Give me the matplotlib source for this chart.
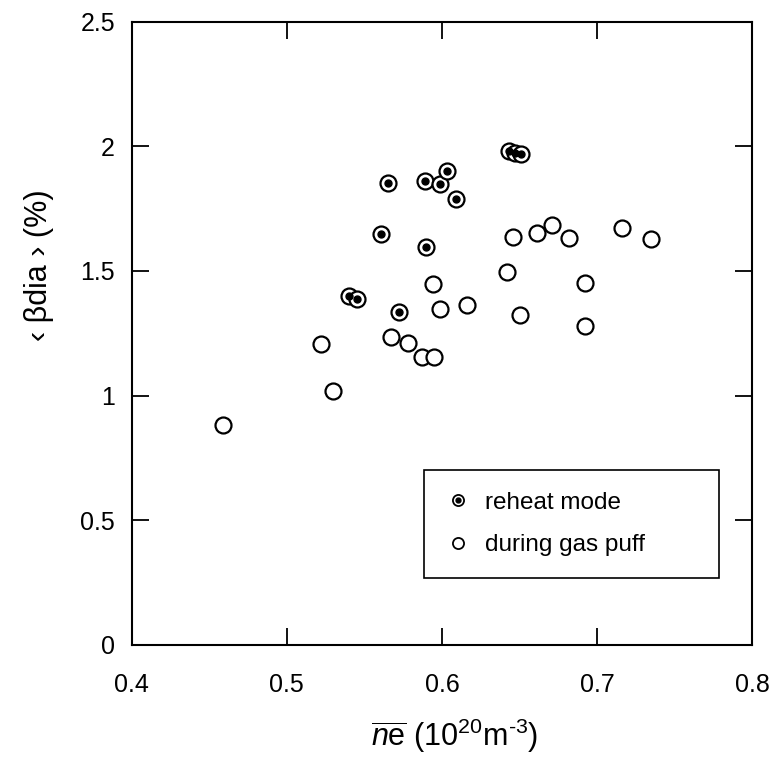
import matplotlib
matplotlib.use("Agg")
import matplotlib.pyplot as plt
from matplotlib.legend_handler import HandlerTuple

plt.rcParams["font.family"] = ["Liberation Sans", "DejaVu Sans"]
plt.rcParams["mathtext.fontset"] = "custom"
plt.rcParams["mathtext.rm"] = "Liberation Sans"
plt.rcParams["mathtext.it"] = "Liberation Sans:italic"

# reheat mode (filled dot in circle)
reheat_ne = [0.565, 0.589, 0.599, 0.603, 0.609, 0.561, 0.590, 0.540, 0.545,
             0.572, 0.643, 0.647, 0.651]
reheat_beta = [1.853, 1.862, 1.847, 1.902, 1.789, 1.649, 1.598, 1.400, 1.387,
               1.336, 1.980, 1.973, 1.970]

# during gas puff (open circles)
puff_ne = [0.646, 0.661, 0.671, 0.682, 0.716, 0.735, 0.642, 0.692, 0.650,
           0.692, 0.594, 0.599, 0.616, 0.522, 0.567, 0.578, 0.587, 0.595,
           0.530, 0.459]
puff_beta = [1.636, 1.652, 1.683, 1.633, 1.671, 1.630, 1.497, 1.453, 1.323,
             1.279, 1.447, 1.346, 1.364, 1.207, 1.235, 1.213, 1.153, 1.153,
             1.018, 0.882]

xticks = [0.4, 0.5, 0.6, 0.7, 0.8]
yticks = [0, 0.5, 1, 1.5, 2, 2.5]

fig = plt.figure(figsize=(7.70, 7.76), dpi=100)
ax = fig.add_axes([0.171, 0.169, 0.806, 0.803])

ms = 11.5
ax.plot(puff_ne, puff_beta, "o", ms=ms, mfc="white", mec="black", mew=1.6,
        ls="none")
ax.plot(reheat_ne, reheat_beta, "o", ms=ms, mfc="white", mec="black", mew=1.6,
        ls="none")
ax.plot(reheat_ne, reheat_beta, "o", ms=5, mfc="black", mec="black",
        ls="none")

ax.set_xlim(0.4, 0.8)
ax.set_ylim(0, 2.5)
ax.set_xticks(xticks)
ax.set_xticklabels(["0.4", "0.5", "0.6", "0.7", "0.8"])
ax.set_yticks(yticks)
ax.set_yticklabels(["0", "0.5", "1", "1.5", "2", "2.5"])
ax.tick_params(direction="in", length=12, width=1.3, labelsize=18,
               top=True, right=True)
ax.tick_params(axis="x", pad=20)
ax.tick_params(axis="y", pad=12)
for s in ax.spines.values():
    s.set_linewidth(1.5)

ax.set_xlabel(r"$\overline{n\mathrm{e}}$ (10$^{20}$m$^{\text{-}3}$)",
              fontsize=22)
ax.xaxis.set_label_coords(0.52, -0.115)
ax.set_ylabel("‹ βdia › (%)", fontsize=22)
ax.yaxis.set_label_coords(-0.125, 0.61)

# legend handles
h_open = plt.Line2D([], [], marker="o", ms=8, mfc="white", mec="black",
                    mew=1.3, ls="none")
h_dot = plt.Line2D([], [], marker="o", ms=3.5, mfc="black", mec="black",
                   ls="none")
leg = ax.legend([(h_open, h_dot), h_open],
                ["reheat mode", "during gas puff"],
                handler_map={tuple: HandlerTuple(ndivide=1, pad=0)},
                loc="upper left", bbox_to_anchor=(0.471, 0.281, 0.476, 0.0),
                mode="expand", borderaxespad=0, fontsize=17.5, fancybox=False,
                edgecolor="black", framealpha=1, handlelength=1.0,
                handletextpad=0.6, labelspacing=0.85, borderpad=0.9)
leg.get_frame().set_linewidth(1.2)

fig.savefig("out.png", dpi=100)
